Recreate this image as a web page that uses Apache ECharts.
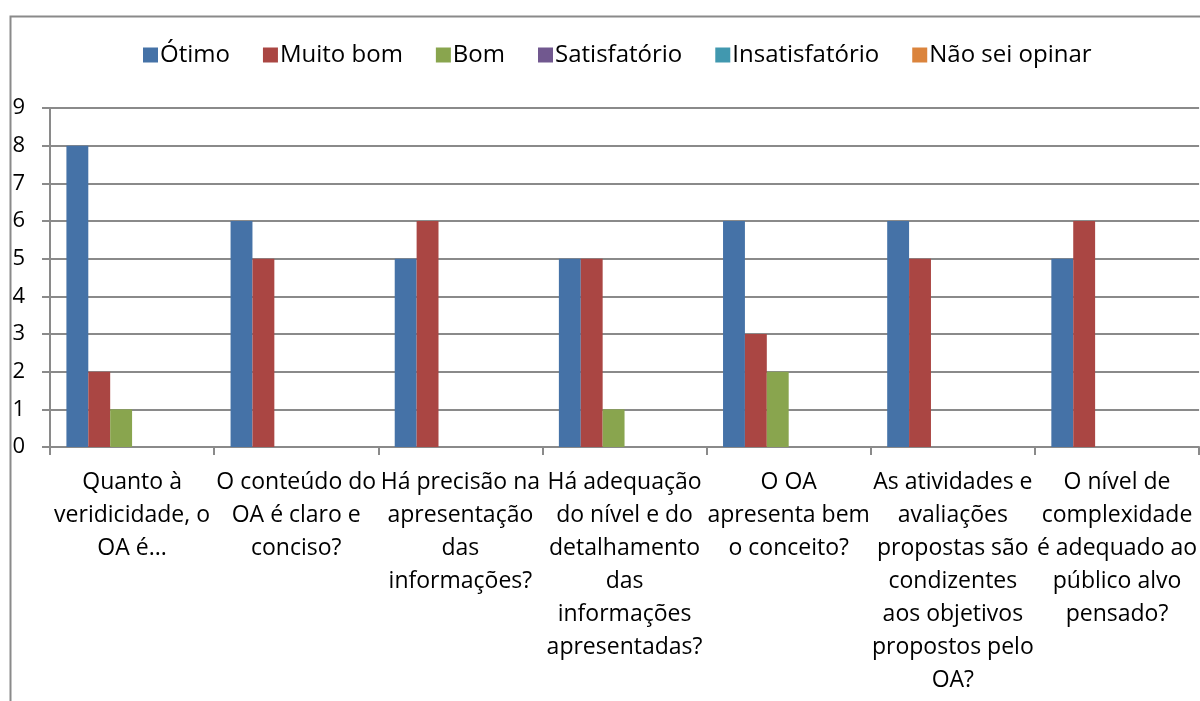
<!DOCTYPE html>
<html>
<head>
<meta charset="utf-8">
<script src="https://cdn.jsdelivr.net/npm/echarts@6/dist/echarts.min.js"></script>
<style>
  html, body { margin: 0; padding: 0; background: #fff; }
  #chart { width: 1200px; height: 701px; }
</style>
</head>
<body>
<div id="chart"></div>
<script>
// perguntas (quebras de linha como no original)
const categories = [
  'Quanto à\nveridicidade, o\nOA é...',
  'O conteúdo do\nOA é claro e\nconciso?',
  'Há precisão na\napresentação\ndas\ninformações?',
  'Há adequação\ndo nível e do\ndetalhamento\ndas\ninformações\napresentadas?',
  'O OA\napresenta bem\no conceito?',
  'As atividades e\navaliações\npropostas são\ncondizentes\naos objetivos\npropostos pelo\nOA?',
  'O nível de\ncomplexidade\né adequado ao\npúblico alvo\npensado?'
]
const seriesNames = ['Ótimo', 'Muito bom', 'Bom', 'Satisfatório', 'Insatisfatório', 'Não sei opinar']
const otimo = [8, 6, 5, 5, 6, 6, 5]
const muitoBom = [2, 5, 6, 5, 3, 5, 6]
const bom = [1, 0, 0, 1, 2, 0, 0]
const satisfatorio = [0, 0, 0, 0, 0, 0, 0]
const insatisfatorio = [0, 0, 0, 0, 0, 0, 0]
const naoSei = [0, 0, 0, 0, 0, 0, 0]
const yTicks = [0, 9, 1] // min, max, intervalo

const colors = ['#4572A7', '#AA4643', '#89A54E', '#71588F', '#4198AF', '#DB843D']
const values = [otimo, muitoBom, bom, satisfatorio, insatisfatorio, naoSei]
const font = '"Open Sans", "Noto Sans", sans-serif'

const chart = echarts.init(document.getElementById('chart'), null, { renderer: 'canvas' })
chart.setOption({
  animation: false,
  color: colors,
  textStyle: { fontFamily: font },
  graphic: [{
    type: 'rect',
    left: 8,
    top: 14,
    shape: { width: 1250, height: 720 },
    style: { fill: 'none', stroke: '#8a8a8a', lineWidth: 2 },
    silent: true
  }],
  legend: {
    top: 38,
    left: 138,
    itemWidth: 15,
    itemHeight: 15,
    itemGap: 33,
    icon: 'rect',
    textStyle: { fontSize: 24, color: '#000', fontFamily: font, padding: [0, 0, 0, -3] },
    data: seriesNames
  },
  grid: { left: 50, right: 0, top: 108, bottom: 254, containLabel: false },
  xAxis: {
    type: 'category',
    data: categories,
    axisLine: { lineStyle: { color: '#8a8a8a', width: 2 } },
    axisTick: { show: true, length: 8, lineStyle: { color: '#8a8a8a', width: 2 } },
    axisLabel: {
      interval: 0,
      fontSize: 23,
      lineHeight: 33,
      color: '#000',
      margin: 19,
      fontFamily: font
    }
  },
  yAxis: {
    type: 'value',
    min: yTicks[0],
    max: yTicks[1],
    interval: yTicks[2],
    axisLine: { show: true, lineStyle: { color: '#8a8a8a', width: 2 } },
    axisTick: { show: true, length: 8, lineStyle: { color: '#8a8a8a', width: 2 } },
    splitLine: { lineStyle: { color: '#8a8a8a', width: 2 } },
    axisLabel: { fontSize: 22, color: '#000', margin: 25, fontFamily: font }
  },
  series: seriesNames.map((name, i) => ({
    name,
    type: 'bar',
    data: values[i],
    barGap: '0%',
    barCategoryGap: '20%'
  }))
})
</script>
</body>
</html>
